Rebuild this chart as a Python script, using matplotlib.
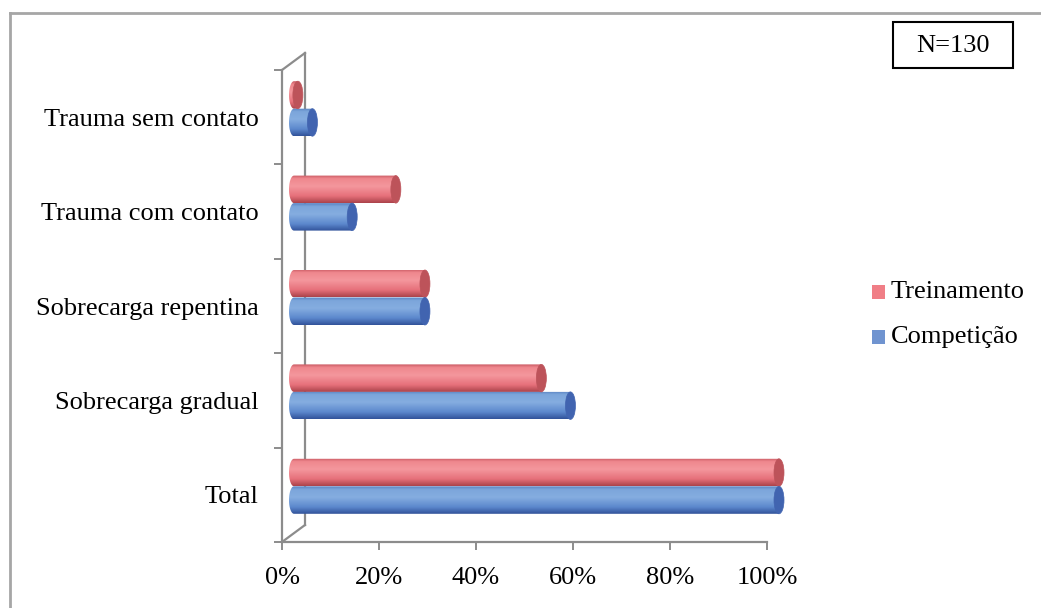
import matplotlib.pyplot as plt
import numpy as np
from matplotlib.colors import LinearSegmentedColormap
from matplotlib.patches import Ellipse, PathPatch, Rectangle
from matplotlib.path import Path
from matplotlib.lines import Line2D

# dados (de baixo para cima)
categorias = ['Total', 'Sobrecarga gradual', 'Sobrecarga repentina',
              'Trauma com contato', 'Trauma sem contato']
treinamento = [100, 51, 27, 21, 0.8]
competicao = [100, 57, 27, 12, 3.8]
series = ['Treinamento', 'Competição']
x_ticks = [0, 20, 40, 60, 80, 100]

plt.rcParams['font.family'] = ['Liberation Serif', 'DejaVu Serif']
FS = 19

W, H = 1041, 608
fig = plt.figure(figsize=(W / 100, H / 100), dpi=100)
ax = fig.add_axes([282 / W, 1 - 542 / H, 485 / W, 472 / H])
ax.set_xlim(0, 100)
ax.set_ylim(0, 5)

px_x = 100 / 485.0   # unidades por pixel
px_y = 5 / 472.0

grid_c = '#8c8c8c'
for s in ['top', 'right']:
    ax.spines[s].set_visible(False)
for s in ['left', 'bottom']:
    ax.spines[s].set_color(grid_c)
    ax.spines[s].set_linewidth(1.6)

# parede 3D
dx, dy = 23 * px_x, 17 * px_y
kw = dict(color=grid_c, lw=1.6, clip_on=False)
ax.add_line(Line2D([0, dx], [5, 5 + dy], **kw))
ax.add_line(Line2D([dx, dx], [5 + dy, dy], **kw))
ax.add_line(Line2D([0, dx], [0, dy], **kw))

ax.set_yticks(range(6))
ax.set_yticklabels([])
ax.set_yticks([i + 0.5 for i in range(5)], minor=True)
ax.set_yticklabels(categorias, minor=True, fontsize=FS)
ax.tick_params(axis='y', which='major', length=6, width=1.4, color=grid_c)
ax.tick_params(axis='y', which='minor', length=0, pad=17)

ax.set_xticks(x_ticks)
ax.set_xticklabels([f'{t}%' for t in x_ticks], fontsize=FS)
ax.tick_params(axis='x', length=6, width=1.4, color=grid_c, pad=12)

red_cm = LinearSegmentedColormap.from_list('r', [
    (0, '#c95a62'), (0.12, '#ef878e'), (0.4, '#f4979d'),
    (0.75, '#e6707a'), (1, '#ab434b')])
blue_cm = LinearSegmentedColormap.from_list('b', [
    (0, '#5a82c2'), (0.12, '#7ca6db'), (0.4, '#85ade0'),
    (0.75, '#5c88cd'), (1, '#31539a')])
cap_c = ['#bd535a', '#4164b0']

off = 12 * px_x
lift = 8.5 * px_y
bh = 27.5 * px_y
rx = 5 * px_x
grad = np.linspace(0, 1, 100).reshape(-1, 1)


def cilindro(v, yc, cmap, capc):
    x0, x1 = off, off + v
    top, bot = yc + bh / 2, yc - bh / 2
    th = np.linspace(np.pi / 2, 3 * np.pi / 2, 30)
    verts = [(x1, top), (x1, bot), (x0, bot)]
    verts += [(x0 + rx * np.cos(t), yc + bh / 2 * np.sin(t)) for t in th[::-1]]
    verts += [(x1, top)]
    codes = [Path.MOVETO] + [Path.LINETO] * (len(verts) - 2) + [Path.CLOSEPOLY]
    clip = PathPatch(Path(verts, codes), facecolor='none', edgecolor='none',
                     clip_on=False)
    ax.add_patch(clip)
    im = ax.imshow(grad, cmap=cmap, aspect='auto', origin='upper',
                   extent=[x0 - rx, x1, bot, top], zorder=2)
    im.set_clip_box(fig.bbox)
    im.set_clip_path(clip)
    ax.add_patch(Ellipse((x1, yc), 2 * rx, bh, facecolor=capc,
                         edgecolor=capc, lw=0.5, zorder=3, clip_on=False))


for i in range(len(categorias)):
    yc = i + 0.5 + lift
    cilindro(treinamento[i], yc + bh / 2, red_cm, cap_c[0])
    cilindro(competicao[i], yc - bh / 2, blue_cm, cap_c[1])

ax.set_xlim(0, 100)
ax.set_ylim(0, 5)

# legenda
leg_c = ['#f07e86', '#7094d0']
for k, (nome, c) in enumerate(zip(series, leg_c)):
    yy = 292 + k * 45
    fig.patches.append(Rectangle((872 / W, 1 - (yy + 7) / H), 13 / W, 14 / H,
                                 transform=fig.transFigure, facecolor=c,
                                 edgecolor='none'))
    fig.text(891 / W, 1 - yy / H, nome, fontsize=FS, va='center', ha='left')

# caixa N=130
fig.patches.append(Rectangle((893 / W, 1 - 68 / H), 120 / W, 46 / H,
                             transform=fig.transFigure, facecolor='white',
                             edgecolor='black', lw=1.5))
fig.text(953 / W, 1 - 46 / H, 'N=130', fontsize=FS, ha='center', va='center')

# moldura
fig.add_artist(Line2D([10 / W, 10 / W], [0, 1 - 13 / H], color='#a6a6a6',
                      lw=2, transform=fig.transFigure))
fig.add_artist(Line2D([10 / W, 1], [1 - 13 / H, 1 - 13 / H], color='#a6a6a6',
                      lw=2, transform=fig.transFigure))

fig.savefig('out.png', dpi=100)
